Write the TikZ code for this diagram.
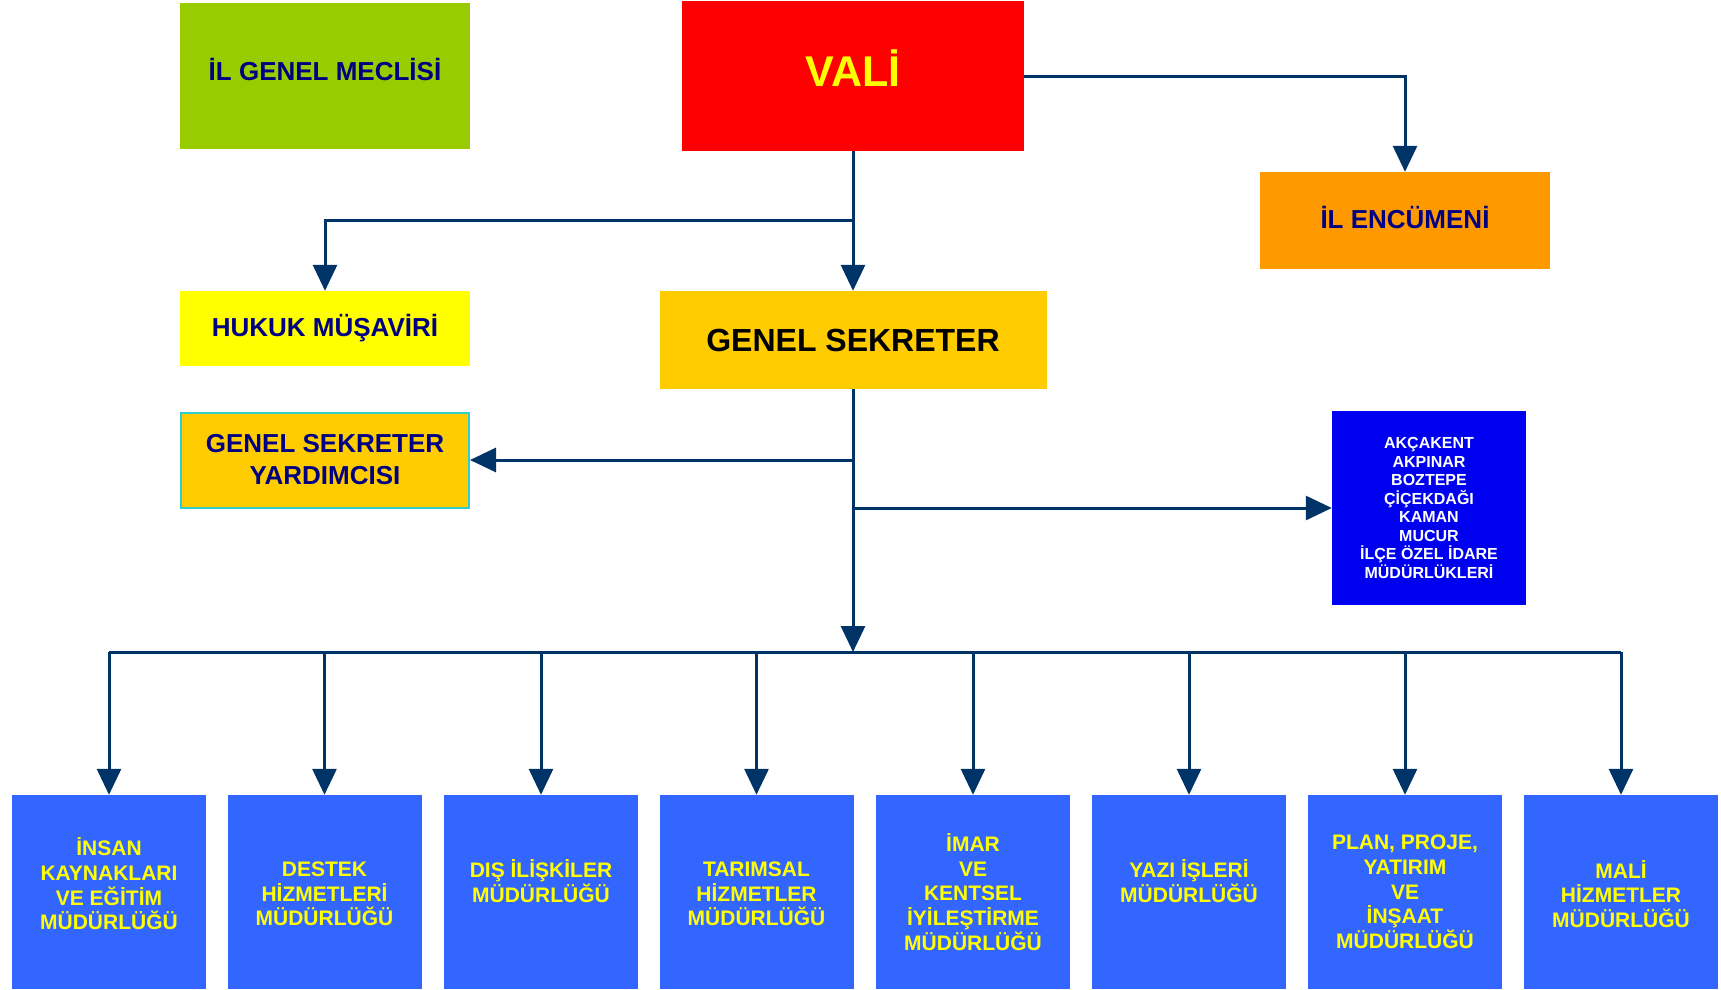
\documentclass[tikz,border=0pt]{standalone}
\usepackage{fontspec}
\setmainfont{Liberation Sans}
\usetikzlibrary{arrows.meta}
\definecolor{ln}{HTML}{003366}
\definecolor{meclis}{HTML}{99CC00}
\definecolor{valic}{HTML}{FF0000}
\definecolor{encc}{HTML}{FF9900}
\definecolor{hukc}{HTML}{FFFF00}
\definecolor{gsc}{HTML}{FFCC00}
\definecolor{gsyb}{HTML}{33CCCC}
\definecolor{akcc}{HTML}{0000F0}
\definecolor{botc}{HTML}{3366FF}
\definecolor{navyt}{HTML}{000080}
\definecolor{yelt}{HTML}{FFFF00}
\begin{document}
\begin{tikzpicture}[x=1pt,y=-1pt,
  box/.style={draw=none, inner sep=0pt, align=center},
  conn/.style={draw=ln, line width=3pt, line join=miter},
  arr/.style={conn, -{Triangle[width=24pt,length=26pt]}},
  bot/.style={box, fill=botc, minimum width=194pt, minimum height=194pt},
  lbl/.style={inner sep=0pt, align=center},
  bott/.style={lbl, text=yelt, font=\bfseries\fontsize{21}{24.7}\selectfont}]
\useasboundingbox (0,0) rectangle (1721,989);
\fill[white] (0,0) rectangle (1721,989);
% top boxes
\node[box, fill=meclis, minimum width=290pt, minimum height=146pt] (meclis) at (325,76) {};
\node[lbl, text=navyt, font=\bfseries\fontsize{26}{32}\selectfont] (meclist) at (325,69) {İL GENEL MECLİSİ};
\node[box, fill=valic, minimum width=342pt, minimum height=150pt] (vali) at (853,76) {};
\node[lbl, text=yelt, font=\bfseries\fontsize{43}{48}\selectfont] (valit) at (853,68) {VALİ};
\node[box, fill=encc, minimum width=290pt, minimum height=97pt] (enc) at (1405,220.5) {};
\node[lbl, text=navyt, font=\bfseries\fontsize{26}{32}\selectfont] (enct) at (1405,217.5) {İL ENCÜMENİ};
\node[box, fill=hukc, minimum width=290pt, minimum height=75pt, text=navyt, font=\bfseries\fontsize{26}{32}\selectfont] (huk) at (325,328.5) {HUKUK MÜŞAVİRİ};
\node[box, fill=gsc, minimum width=387pt, minimum height=98pt, text=black, font=\bfseries\fontsize{32}{38}\selectfont] (gs) at (853,340) {GENEL SEKRETER};
\node[box, fill=gsc, draw=gsyb, line width=2pt, minimum width=288pt, minimum height=95pt, text=navyt, font=\bfseries\fontsize{26}{32}\selectfont] (gsy) at (325,460) {GENEL SEKRETER\\YARDIMCISI};
\node[box, fill=akcc, minimum width=194pt, minimum height=194pt, text=white, font=\bfseries\fontsize{16}{18.5}\selectfont] (akc) at (1429,508) {AKÇAKENT\\AKPINAR\\BOZTEPE\\ÇİÇEKDAĞI\\KAMAN\\MUCUR\\İLÇE ÖZEL İDARE\\MÜDÜRLÜKLERİ};
% bottom boxes
\node[bot] (b1) at (109,892) {};
\node[bot] (b2) at (324.5,892) {};
\node[bot] (b3) at (541,892) {};
\node[bot] (b4) at (756.5,892) {};
\node[bot] (b5) at (973,892) {};
\node[bot] (b6) at (1189,892) {};
\node[bot] (b7) at (1405,892) {};
\node[bot] (b8) at (1621,892) {};
\node[bott] (t1) at (109,884) {İNSAN\\KAYNAKLARI\\VE EĞİTİM\\MÜDÜRLÜĞÜ};
\node[bott] (t2) at (324.5,894) {DESTEK\\HİZMETLERİ\\MÜDÜRLÜĞÜ};
\node[bott] (t3) at (541,881) {DIŞ İLİŞKİLER\\MÜDÜRLÜĞÜ};
\node[bott] (t4) at (756.5,894) {TARIMSAL\\HİZMETLER\\MÜDÜRLÜĞÜ};
\node[bott] (t5) at (973,892) {İMAR\\VE\\KENTSEL\\İYİLEŞTİRME\\MÜDÜRLÜĞÜ};
\node[bott] (t6) at (1189,881) {YAZI İŞLERİ\\MÜDÜRLÜĞÜ};
\node[bott] (t7) at (1405,892) {PLAN, PROJE,\\YATIRIM\\VE\\İNŞAAT\\MÜDÜRLÜĞÜ};
\node[bott] (t8) at (1621,894) {MALİ\\HİZMETLER\\MÜDÜRLÜĞÜ};
% junctions
\coordinate (j1) at (853,220);
\coordinate (j1l) at (325,220);
\coordinate (j2) at (1405,76);
\coordinate (j3) at (853,460);
\coordinate (j4) at (853,508);
\coordinate (busc) at (853,652);
\coordinate (busl) at (109,652);
\coordinate (busr) at (1621,652);
% connectors
\draw[arr] (vali.south) -- (gs.north);
\draw[arr] (j1) -- (j1l) -- (huk.north);
\draw[arr] (vali.east) -- (j2) -- (enc.north);
\draw[arr] (gs.south) -- (busc);
\draw[arr] (j3) -- (gsy.east);
\draw[arr] (j4) -- (akc.west);
\draw[conn] (busl) -- (busr);
\foreach \b in {b1,b2,b3,b4,b5,b6,b7,b8}{
  \draw[arr] (\b.north |- busc) -- (\b.north);
}
\end{tikzpicture}
\end{document}
